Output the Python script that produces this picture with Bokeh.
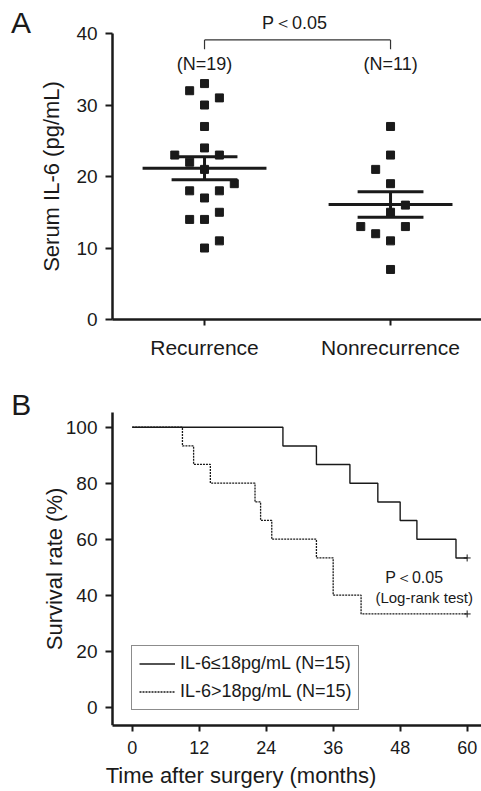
import numpy as np
from bokeh.plotting import figure
from bokeh.models import Legend, LegendItem, Range1d, FixedTicker
from bokeh.layouts import column
from bokeh.embed import file_html
from bokeh.resources import INLINE
from bokeh.core.properties import value

FONT = "Liberation Sans"
INK = "#1a1a1a"

# ---------------- Panel A data ----------------
groups = ["Recurrence", "Nonrecurrence"]
group_n = ["(N=19)", "(N=11)"]
recurrence_il6 = [33, 32, 31, 30, 27, 24, 23, 23, 22, 21, 19, 18, 18, 17, 15, 14, 14, 11, 10]
recurrence_slot = [0, -1, 1, 0, 0, 0, -2, 1, -1, 0, 2, -1, 1, 0, 1, -1, 0, 1, 0]
nonrecurrence_il6 = [27, 23, 21, 19, 16, 15, 13, 13, 12, 11, 7]
nonrecurrence_slot = [0, 0, -1, 0, 1, 0, -2, 1, -1, 0, 0]
p_text_a = "P＜0.05"
il6_ticks = [0, 10, 20, 30, 40]

# ---------------- Panel B data ----------------
months_low = [0, 27, 33, 39, 44, 48, 51, 58, 60]
surv_low = [100, 93.3, 86.7, 80, 73.3, 66.7, 60, 53.3, 53.3]
months_high = [0, 9, 11, 14, 22, 23, 25, 33, 36, 41, 60]
surv_high = [100, 93.3, 86.7, 80, 73.3, 66.7, 60, 53.3, 40, 33.3, 33.3]
month_ticks = [0, 12, 24, 36, 48, 60]
surv_ticks = [0, 20, 40, 60, 80, 100]
legend_low = "IL-6≤18pg/mL (N=15)"
legend_high = "IL-6>18pg/mL (N=15)"
p_text_b = "P＜0.05"
test_text = "(Log-rank test)"

SLOT = 0.08  # jitter step in category units


def style_axis(ax, tick_out, label_size):
    ax.axis_line_width = 2.5
    ax.axis_line_color = INK
    ax.major_tick_line_width = 2
    ax.major_tick_line_color = INK
    ax.major_tick_out = tick_out
    ax.major_tick_in = 0
    ax.minor_tick_out = 0
    ax.minor_tick_in = 0
    ax.major_label_text_font = FONT
    ax.major_label_text_font_size = label_size
    ax.major_label_text_color = INK
    ax.axis_label_text_font = FONT
    ax.axis_label_text_font_size = "22px"
    ax.axis_label_text_font_style = "normal"
    ax.axis_label_text_color = INK


def txt(p, x, y, s, size):
    p.text(x=[x], y=[y], text=[s], text_align="center", text_baseline="middle",
           text_font=value(FONT), text_font_size=size, text_color=INK)


# ================= Panel A =================
A_X0, A_X1 = -0.0968, 2.489
A_YAX = 0.5054
pa = figure(width=481, height=373, x_range=Range1d(A_X0, A_X1), y_range=Range1d(-7.55, 44.62),
            output_backend="svg", toolbar_location=None,
            min_border_left=0, min_border_right=0, min_border_top=0, min_border_bottom=0)
pa.grid.visible = False
pa.outline_line_color = None

pos = list(range(1, len(groups) + 1))
datasets = [(recurrence_il6, recurrence_slot), (nonrecurrence_il6, nonrecurrence_slot)]
for gx, (vals, slots) in zip(pos, datasets):
    xs = [gx + s * SLOT for s in slots]
    pa.scatter(xs, vals, marker="square", size=8, fill_color=INK, line_color=INK)
for gx, (vals, slots) in zip(pos, datasets):
    arr = np.array(vals, dtype=float)
    m = arr.mean()
    sem = arr.std(ddof=1) / np.sqrt(len(arr))
    pa.segment(x0=[gx - 0.333], x1=[gx + 0.333], y0=[m], y1=[m], line_width=3, line_color=INK)
    pa.segment(x0=[gx - 0.177, gx - 0.177], x1=[gx + 0.177, gx + 0.177],
               y0=[m - sem, m + sem], y1=[m - sem, m + sem], line_width=3, line_color=INK)
    pa.segment(x0=[gx], x1=[gx], y0=[m - sem], y1=[m + sem], line_width=3, line_color=INK)

# significance bracket and labels
pa.segment(x0=[pos[0], pos[0], pos[1]], x1=[pos[1], pos[0], pos[1]],
           y0=[39.1, 39.1, 39.1], y1=[39.1, 37.8, 37.8], line_width=1.2, line_color="#333333")
pa.text(x=pos, y=[35.8, 35.8], text=group_n, text_align="center", text_baseline="middle",
        text_font=value(FONT), text_font_size="18px", text_color=INK)
txt(pa, 1.484, 41.54, p_text_a, "18px")
txt(pa, 0.0134, 41.58, "A", "30px")

style_axis(pa.xaxis[0], 6, "21px")
style_axis(pa.yaxis[0], 7, "19px")
pa.yaxis.fixed_location = A_YAX
pa.xaxis.fixed_location = 0
pa.yaxis.bounds = (0, 40)
pa.xaxis.bounds = (A_YAX, A_X1)
pa.xaxis.ticker = FixedTicker(ticks=pos)
pa.xaxis.major_label_overrides = {p: g for p, g in zip(pos, groups)}
pa.xaxis.major_label_standoff = 10
pa.yaxis.ticker = FixedTicker(ticks=il6_ticks)
pa.yaxis.major_label_standoff = 8
pa.yaxis.axis_label = "Serum IL-6 (pg/mL)"
pa.yaxis.axis_label_standoff = 9

# ================= Panel B =================
B_X0, B_X1 = -23.59, 62.57
B_YAX = -3.53
B_Y0 = -6.54
pb = figure(width=481, height=417, x_range=Range1d(B_X0, B_X1), y_range=Range1d(B_Y0, 119.18),
            output_backend="svg", toolbar_location=None,
            min_border_left=0, min_border_right=0, min_border_top=0, min_border_bottom=65)
pb.grid.visible = False
pb.outline_line_color = None

r_low = pb.step(months_low, surv_low, mode="after", line_width=1.4, line_color=INK)
r_high = pb.step(months_high, surv_high, mode="after", line_width=1.3, line_color=INK, line_dash="2 1")
pb.scatter([months_low[-1], months_high[-1]], [surv_low[-1], surv_high[-1]],
           marker="cross", size=7, line_width=1, line_color=INK)

txt(pb, 50.5, 46.4, p_text_b, "16px")
txt(pb, 52.3, 39.3, test_text, "15px")
txt(pb, -19.86, 108.1, "B", "30px")

legend = Legend(items=[LegendItem(label=legend_low, renderers=[r_low]),
                       LegendItem(label=legend_high, renderers=[r_high])],
                location=(131, 15), margin=0, padding=7, spacing=7,
                glyph_width=36, glyph_height=21, label_height=21, label_standoff=5,
                label_text_font=FONT, label_text_font_size="18px", label_text_color=INK,
                border_line_color=INK, border_line_width=1.5,
                background_fill_color="white", background_fill_alpha=1.0)
pb.add_layout(legend)

style_axis(pb.xaxis[0], 6, "18px")
style_axis(pb.yaxis[0], 7, "19px")
pb.yaxis.fixed_location = B_YAX
pb.yaxis.bounds = (B_Y0, 105.36)
pb.xaxis.bounds = (B_YAX, B_X1)
pb.xaxis.ticker = FixedTicker(ticks=month_ticks)
pb.xaxis.major_label_standoff = 9
pb.xaxis.axis_label = "Time after surgery (months)"
pb.xaxis.axis_label_standoff = 6
pb.yaxis.ticker = FixedTicker(ticks=surv_ticks)
pb.yaxis.major_label_standoff = 8
pb.yaxis.axis_label = "Survival rate (%)"
pb.yaxis.axis_label_standoff = -4

layout = column(pa, pb)
open("out.html", "w").write(file_html(layout, INLINE))
